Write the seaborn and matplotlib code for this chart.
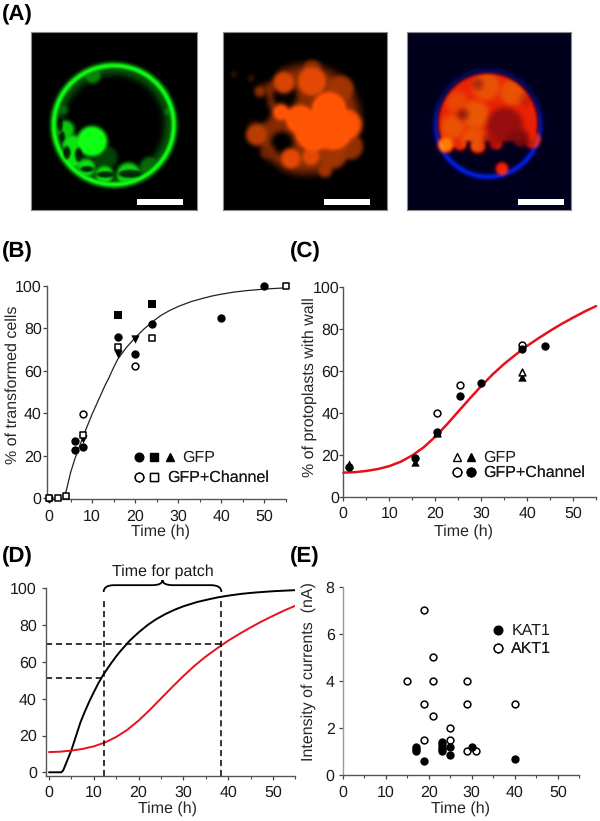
import numpy as np
import matplotlib
matplotlib.use('Agg')
import matplotlib.pyplot as plt
import seaborn as sns
from matplotlib.lines import Line2D
from matplotlib.legend_handler import HandlerTuple
from matplotlib.patches import PathPatch, Rectangle
from matplotlib.path import Path

# panel B, % of transformed cells
b_filled_circle_t = [6, 6, 8, 16, 20, 24, 40, 50]
b_filled_circle_v = [27, 22.5, 24, 76, 68, 82, 85, 100]
b_filled_square_t = [16, 24]
b_filled_square_v = [86, 91.5]
b_filled_tri_t = [8, 16, 20]
b_filled_tri_v = [28, 68, 75]
b_open_circle_t = [0, 8, 20]
b_open_circle_v = [0, 39.5, 62]
b_open_square_t = [0, 2, 4, 8, 16, 24, 55]
b_open_square_v = [0, 0, 1, 30, 71, 75.5, 100]
b_curve_t = [3.6, 4, 5, 6, 7, 8, 9, 10, 11, 12, 13, 14, 15, 16, 18, 20, 22, 24,
             26, 28, 30, 33, 36, 38, 40, 43, 46, 50, 55]
b_curve_v = [1.5, 3.5, 12, 18.5, 24, 29.5, 34.5, 39.5, 44, 48.5, 53, 57, 61.5, 65.5, 71, 75.5, 79.5, 83,
             86, 88.3, 90.2, 92.5, 94.2, 95.2, 96, 97, 97.7, 98.4, 99]

# panel C, % of protoplasts with wall
c_filled_tri_t = [1.3, 15.5, 39]
c_filled_tri_v = [15.5, 16.5, 57]
c_open_tri_t = [20.5, 39]
c_open_tri_v = [30.5, 59.5]
c_filled_circle_t = [1.3, 15.5, 20.5, 25.5, 30, 39, 44]
c_filled_circle_v = [14, 18.5, 31, 48, 54.5, 70.5, 72]
c_open_circle_t = [20.5, 25.5, 39]
c_open_circle_v = [40, 53.5, 72.5]

# curves of panel C and D
black_t = [0, 2.8, 3.2, 4, 5, 6, 7, 8, 9, 10, 11, 12, 13, 14, 15, 16, 18, 20, 22, 24,
           26, 28, 30, 33, 36, 38, 40, 43, 46, 50, 55]
black_v = [0, 0, 1.2, 6, 12, 19.5, 27, 33, 38.5, 43.5, 48.3, 52.5, 56.2, 59.7, 63, 66, 71.5, 76, 80, 83.3,
           86, 88.3, 90.2, 92.5, 94.2, 95.2, 96, 97, 97.7, 98.4, 99]
red_t = [0, 2.5, 5, 7.5, 10, 12.5, 15, 17.5, 20, 22.5, 25, 27.5, 30, 32.5, 35, 37.5, 40,
         42.5, 45, 47.5, 50, 52.5, 55]
red_v = [11.5, 11.7, 12.3, 13.2, 14.6, 16.7, 19.7, 23.6, 28.6, 34.4, 40.6, 46.8, 52.8, 58.4, 63.4, 67.8, 72,
         75.7, 79.2, 82.5, 85.5, 88.4, 91]

# panel D guide lines
patch_start = 12.2
patch_end = 38.5
level_low = 51.5
level_high = 70

# panel E, currents in nA
kat1_t = [17, 17, 17, 19, 23, 23, 23, 23, 23, 25, 25, 30, 40]
kat1_v = [1, 1.1, 1.2, 0.6, 1, 1.1, 1.2, 1.3, 1.4, 1.2, 0.85, 1.2, 0.7]
akt1_t = [19, 21, 15, 21, 29, 19, 29, 40, 21, 25, 19, 25, 29, 31]
akt1_v = [7, 5, 4, 4, 4, 3, 3, 3, 2.5, 2, 1.5, 1.5, 1, 1]

# micrograph blobs in page pixels: x, y, radius, level
green_mass = [(91.7, 141.7, 15, 1.0), (72, 145, 10, 0.85), (65, 130, 9, 0.75), (72, 160, 9, 0.85),
              (86, 168, 9, 0.85), (104, 175, 9, 0.85), (128, 175, 12, 0.8), (150, 168, 11, 0.4),
              (105, 158, 12, 0.25), (92, 75, 9, 0.5), (168, 112, 5, 0.5), (62, 110, 6, 0.4)]
# chloroplast shadows: x, y, half width, half height
green_holes = [(60, 125, 2.7, 7.5), (62, 136.7, 2.7, 5), (66.7, 153, 3.5, 6.5), (78.3, 155, 3.5, 7),
               (86.7, 169.3, 6.5, 3), (105, 174.7, 8.5, 3.2), (129.3, 174, 11, 4)]
orange_body = [(306, 120, 54, 0.5)]
orange_blobs = [(284, 83, 11, 0.8), (312, 82, 15, 0.85), (329, 110, 18, 1.0), (281, 113, 8.5, 1.0),
                (314, 132, 20, 1.0), (300, 120, 15, 1.0), (333, 130, 21, 1.0), (346, 125, 16, 0.95),
                (257, 135, 11, 0.7), (291, 159, 10.5, 0.85), (311, 157, 9.5, 0.85), (325, 170, 7.5, 0.6),
                (260, 92, 5.5, 0.55), (350, 147, 13, 0.55), (312, 72, 11, 0.55), (340, 90, 14, 0.6),
                (268, 152, 8, 0.4), (234, 75, 2.5, 0.3), (251, 79, 2.5, 0.35), (333, 155, 14, 0.6),
                (356, 123, 7, 0.5)]
orange_holes = [(285, 97, 12, 0.95), (249, 103, 19, 1.0), (282, 143, 11, 1.0), (260, 113, 11, 1.0),
                (264, 70, 13, 1.0), (239, 87, 15, 1.0), (241, 167, 26, 1.0), (268, 175, 11, 1.0)]
red_spots = [(486, 87, 14, 0.2), (457, 103, 11, 0.15), (513, 93, 13, 0.2), (453, 127, 12, 0.2),
             (474, 140, 13, 0.2), (475, 115, 14, 0.22), (446, 145, 8, 0.3)]
red_dark = [(505, 126, 18, 0.36), (517, 140, 12, 0.45), (492, 140, 9, 0.25), (463, 115, 5, 0.4),
            (478, 85, 5, 0.3), (525, 100, 6, 0.15)]
red_extra = [(502, 169, 6.5, 0.95), (446, 145, 8.5, 1.0), (532, 140, 9, 0.8), (460, 144, 7, 0.92),
             (478, 146, 8, 0.92), (496, 143, 7, 0.85), (520, 140, 7, 0.8)]

sns.set_theme(style='ticks')
plt.rcParams['font.family'] = ['Liberation Sans', 'DejaVu Sans']
plt.rcParams['text.color'] = '#1a1a1a'
plt.rcParams['text.hinting'] = 'none'

W, H = 600, 821
FS = 11.5
fig = plt.figure(figsize=(6, 8.21), dpi=100)
fig.patch.set_facecolor('white')


def soft_disc(xx, yy, cx, cy, rx, ry, edge=2.0):
    d = np.hypot((xx - cx) / rx, (yy - cy) / ry)
    return np.clip((1 - d) * min(rx, ry) / edge + 0.5, 0, 1)


def blur(img, n=2):
    # small repeated box blur, the originals are soft confocal images
    out = img.copy()
    for _ in range(n):
        out = (out + np.roll(out, 1, 0) + np.roll(out, -1, 0) + np.roll(out, 1, 1) + np.roll(out, -1, 1)) / 5
    return out


def grid_for(x0, x1, y0, y1):
    xs = np.arange(x0, x1) + 0.5
    ys = np.arange(y0, y1) + 0.5
    return np.meshgrid(xs, ys)


def blobs(xx, yy, items, edge=2.0):
    out = np.zeros_like(xx)
    for x, y, r, lev in items:
        out = np.maximum(out, lev * soft_disc(xx, yy, x, y, r, r, edge))
    return out


def image_axes(img, x0, x1, y0, y1, bar_x):
    ax = fig.add_axes([x0 / W, 1 - y1 / H, (x1 - x0) / W, (y1 - y0) / H])
    ax.imshow(img, extent=(x0, x1, y1, y0), interpolation='bilinear', aspect='auto')
    ax.add_patch(Rectangle((bar_x[0], 199), bar_x[1] - bar_x[0], 5.7, color='white', lw=0))
    ax.set_xticks([])
    ax.set_yticks([])
    for s in ax.spines.values():
        s.set_color('#8a8a8a')
        s.set_linewidth(0.8)
    return ax


# green micrograph
x0, x1, y0, y1 = 31, 197, 32, 210
xx, yy = grid_for(x0, x1, y0, y1)
r = np.hypot((xx - 113.3) / 61.7, (yy - 125.5) / 61.2)
ring = np.exp(-((r - 0.965) * 61 / 3.2) ** 2)
glow = 0.3 * np.exp(-((r - 0.9) * 61 / 6) ** 2)
mass = blur(blobs(xx, yy, green_mass, 4), 3)
inside = np.clip((1 - r) * 30, 0, 1)
g = np.maximum(np.maximum(ring, glow * inside), mass * inside)
holes = np.zeros_like(xx)
for x, y, a, b in green_holes:
    holes = np.maximum(holes, soft_disc(xx, yy, x, y, a, b, 1.5))
g = blur(g * (1 - 0.8 * holes), 1)
img = np.dstack([0.06 * g, 1.05 * g, 0.08 * g])
image_axes(np.clip(img, 0, 1), x0, x1, y0, y1, (137.4, 183.3))

# orange micrograph
x0, x1, y0, y1 = 223, 387, 32, 210
xx, yy = grid_for(x0, x1, y0, y1)
body = blobs(xx, yy, orange_body, 12)
cuts = blur(blobs(xx, yy, orange_holes, 5), 4)
o = np.maximum(body * (1 - cuts), blobs(xx, yy, orange_blobs, 3))
o = blur(o, 8)
img = np.dstack([1.05 * o, 0.34 * o, 0.02 * o])
image_axes(np.clip(img, 0, 1), x0, x1, y0, y1, (324.2, 370.5))

# merged micrograph
x0, x1, y0, y1 = 407, 571, 32, 210
xx, yy = grid_for(x0, x1, y0, y1)
r = np.hypot((xx - 488) / 53.6, (yy - 124) / 54)
ring = np.exp(-((r - 0.98) * 54 / 2.6) ** 2)
ang_fade = np.clip(0.62 + 0.6 * (yy - 124) / 54, 0.3, 1)
body = np.clip((0.95 - r) * 20, 0, 1) * np.clip((143 - yy) / 2, 0, 1)
rr = blur(np.maximum(body * 0.92, blobs(xx, yy, red_extra, 3)), 4)
dark = blur(blobs(xx, yy, red_dark, 6), 10)
spots = blur(blobs(xx, yy, red_spots, 6), 8)
rr = rr * (1 - dark)
blue = 0.11 + 0.85 * blur(ring * ang_fade, 2)
green_part = rr ** 2 * (0.16 + 1.1 * spots) + 0.12 * ring * ang_fade
img = np.dstack([rr, green_part, blue * (1 - 0.9 * rr)])
image_axes(np.clip(img, 0, 1), x0, x1, y0, y1, (518.2, 564))


def plot_axes(x_zero, x_end, y_top, y_zero, xmin, ymin, ytop_val, ypad, yticks):
    # axes placed from the pixel positions of the tick anchors
    xs = (x_end - x_zero) / 55
    ys = (y_zero - y_top) / ytop_val
    left = x_zero + xmin * xs
    bottom = y_zero - ymin * ys
    ax = fig.add_axes([left / W, 1 - bottom / H, (x_end - left) / W, (bottom - y_top) / H])
    ax.set_xlim(xmin, 55)
    ax.set_ylim(ymin, ytop_val)
    ax.patch.set_alpha(0)
    ax.set_xticks(range(0, 60, 10))
    ax.set_xticks(range(5, 60, 10), minor=True)
    ax.set_yticks(yticks)
    sns.despine(ax=ax)
    for side in ['left', 'bottom']:
        ax.spines[side].set_color('#555555')
        ax.spines[side].set_linewidth(1.0)
    ax.tick_params(axis='both', which='major', labelsize=FS, length=2.6, width=0.9, color='#444444',
                   labelcolor='#1a1a1a', pad=4.5)
    ax.tick_params(axis='y', which='major', pad=ypad)
    ax.tick_params(axis='x', which='minor', length=2.2, width=0.8, color='#444444')
    return ax


def marks(ax, t, v, marker, filled=True, size=36):
    sns.scatterplot(x=t, y=v, marker=marker, s=size, ax=ax, clip_on=False, zorder=3, legend=False,
                    color='black' if filled else 'white', edgecolor='black', linewidth=1.1 if not filled else 0)


def key(ax, specs, label, x_px, y_px, length):
    handles = tuple(Line2D([], [], linestyle='none', marker=m, markersize=6.2,
                           markerfacecolor='black' if f else 'white', markeredgecolor='black', markeredgewidth=1.0)
                    for m, f in specs)
    leg = ax.legend([handles], [label], handler_map={tuple: HandlerTuple(ndivide=None, pad=0)},
                    loc='center left', bbox_to_anchor=(x_px / W, 1 - y_px / H), bbox_transform=fig.transFigure,
                    frameon=False, fontsize=FS, handlelength=length, handletextpad=0.3, borderpad=0, borderaxespad=0)
    ax.add_artist(leg)


def labels(ax, xlabel_pos, ylabel=None, ylabel_pos=None):
    ax.set_xlabel('Time (h)', fontsize=FS)
    ax.xaxis.set_label_coords(xlabel_pos[0] / W, 1 - xlabel_pos[1] / H, transform=fig.transFigure)
    ax.xaxis.label.set_va('center')
    if ylabel:
        ax.set_ylabel(ylabel, fontsize=FS)
        ax.yaxis.set_label_coords(ylabel_pos[0] / W, 1 - ylabel_pos[1] / H, transform=fig.transFigure)
        ax.yaxis.label.set_va('center')


pct_ticks = [0, 20, 40, 60, 80, 100]

# panel B
ax_b = plot_axes(49, 285.7, 285.7, 498.3, -0.35, -0.5, 100, 1.6, pct_ticks)
sns.lineplot(x=b_curve_t, y=b_curve_v, color='#222222', lw=0.9, ax=ax_b, errorbar=None)
marks(ax_b, b_filled_circle_t, b_filled_circle_v, 'o')
marks(ax_b, b_filled_square_t, b_filled_square_v, 's', size=32)
marks(ax_b, b_filled_tri_t, b_filled_tri_v, 'v')
marks(ax_b, b_open_circle_t, b_open_circle_v, 'o', False, 24)
marks(ax_b, b_open_square_t, b_open_square_v, 's', False, 22)
labels(ax_b, (160, 532), '% of transformed cells', (13, 385))
key(ax_b, [('o', True), ('s', True), ('^', True)], 'GFP', 131, 458, 2.9)
key(ax_b, [('o', False), ('s', False)], 'GFP+Channel', 131, 478, 1.95)

# panel C
ax_c = plot_axes(343.3, 596, 287.3, 496.7, 0, 0, 100, 0.4, pct_ticks)
sns.lineplot(x=red_t, y=red_v, color='#e8111a', lw=1.8, ax=ax_c, errorbar=None, clip_on=False)
marks(ax_c, c_filled_tri_t, c_filled_tri_v, '^')
marks(ax_c, c_open_tri_t, c_open_tri_v, '^', False, 24)
marks(ax_c, c_open_circle_t, c_open_circle_v, 'o', False, 24)
marks(ax_c, c_filled_circle_t, c_filled_circle_v, 'o')
labels(ax_c, (463, 532), '% of protoplasts with wall', (310, 387))
key(ax_c, [('^', False), ('^', True)], 'GFP', 450, 458, 1.75)
key(ax_c, [('o', False), ('o', True)], 'GFP+Channel', 450, 473, 1.75)

# panel D
ax_d = plot_axes(49, 295.3, 588.3, 772.3, -0.7, -1.8, 100, 3.9, pct_ticks)
sns.lineplot(x=black_t, y=black_v, color='black', lw=1.4, ax=ax_d, errorbar=None)
sns.lineplot(x=red_t, y=[v - 0.5 for v in red_v], color='#e8111a', lw=1.4, ax=ax_d, errorbar=None)
dash = dict(color='black', lw=1.1, ls=(0, (4, 2.5)), zorder=2)
ax_d.plot([patch_start, patch_start], [-1.8, 93], **dash)
ax_d.plot([patch_end, patch_end], [-1.8, 95], **dash)
ax_d.plot([-0.7, patch_end], [level_high, level_high], **dash)
ax_d.plot([-0.7, patch_start], [level_low, level_low], **dash)
mid = (patch_start + patch_end) / 2
brace = Path([(patch_start, 98), (patch_start, 101.7), (patch_start + 2.3, 101.7), (mid - 2.3, 101.7),
              (mid, 101.7), (mid, 104.5), (mid, 101.7), (mid + 2.3, 101.7), (patch_end - 2.3, 101.7),
              (patch_end, 101.7), (patch_end, 98)],
             [Path.MOVETO, Path.CURVE3, Path.CURVE3, Path.LINETO, Path.CURVE3, Path.CURVE3,
              Path.CURVE3, Path.CURVE3, Path.LINETO, Path.CURVE3, Path.CURVE3])
ax_d.add_patch(PathPatch(brace, fc='none', ec='black', lw=1.3, clip_on=False))
ax_d.text(mid, 109, 'Time for patch', ha='center', va='center', fontsize=FS)
labels(ax_d, (167, 809))

# panel E
ax_e = plot_axes(342.7, 579.3, 586.7, 775, 0, 0, 8, 3.2, [0, 2, 4, 6, 8])
ax_e.spines['left'].set_color('#999999')
marks(ax_e, akt1_t, akt1_v, 'o', False, 24)
marks(ax_e, kat1_t, kat1_v, 'o')
labels(ax_e, (460, 809), 'Intensity of currents  (nA)', (309, 672))
key(ax_e, [('o', True)], 'KAT1', 490.5, 631, 1.0)
key(ax_e, [('o', False)], 'AKT1', 490.5, 649, 1.0)

# panel letters
for letter, x, y in [('(A)', 2, 15), ('(B)', 2, 252), ('(C)', 290, 252), ('(D)', 2, 557), ('(E)', 290, 557)]:
    fig.text(x / W, 1 - y / H, letter, fontsize=16, fontweight='bold', color='black', va='center', ha='left')

fig.savefig('out.png', dpi=100)
